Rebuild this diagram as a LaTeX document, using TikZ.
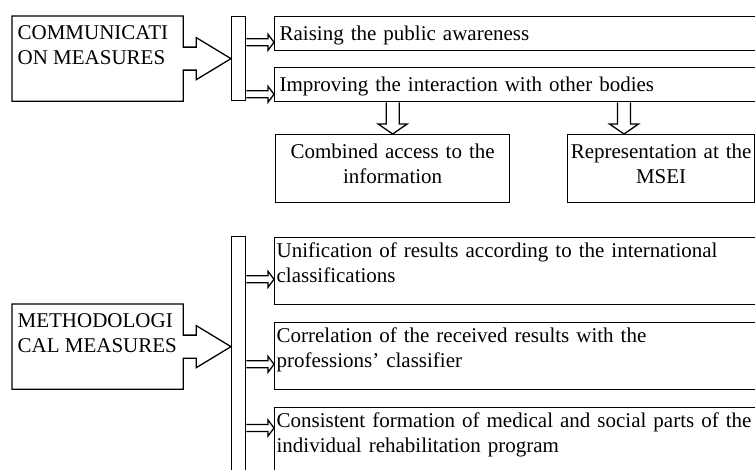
\documentclass[tikz,border=0pt]{standalone}
\usepackage{fontspec}
\setmainfont{Liberation Serif}
\usetikzlibrary{calc}

% hollow arrows between bars and boxes
\newcommand{\rightarr}[2]{%
  \draw ($(#1)+(0,-3.5)$) -- ($(#2)+(-6,-3.5)$) -- ($(#2)+(-6,-8)$) -- (#2)
    -- ($(#2)+(-6,8)$) -- ($(#2)+(-6,3.5)$) -- ($(#1)+(0,3.5)$);}
\newcommand{\downarr}[2]{%
  \draw ($(#1)+(-6.5,0)$) -- ($(#2)+(-6.5,-10)$) -- ($(#2)+(-14.5,-10)$) -- (#2)
    -- ($(#2)+(14.5,-10)$) -- ($(#2)+(6.5,-10)$) -- ($(#1)+(6.5,0)$);}
\newcommand{\bigarr}[2]{%
  \draw (#1.north east) -- ($(#1.east)+(0,-11.5)$) -- ++(13,0) -- ++(0,-9.5)
    -- (#2.west |- #1.east) -- ($(#1.east)+(13,21)$) -- ++(0,-9.5)
    -- ($(#1.east)+(0,11.5)$) -- (#1.south east) -- (#1.south west)
    -- (#1.north west) -- cycle;}

\begin{document}
\begin{tikzpicture}[x=1pt,y=-1pt,line width=1.3pt,
  every node/.style={font=\fontsize{21}{25}\selectfont},
  measure/.style={anchor=north west,inner xsep=5pt,inner ysep=0pt,text width=160pt,
    align=flush left,text height=23pt,text depth=61pt},
  bar/.style={draw,anchor=north west,inner sep=0pt,minimum width=14pt},
  itembox/.style={draw,anchor=north west,inner xsep=5pt,inner ysep=0pt,text width=480pt,
    align=left,text height=24pt,text depth=10pt},
  listbox/.style={draw,anchor=north west,inner xsep=2pt,inner ysep=0pt,text width=486pt,
    align=left,text height=20pt,text depth=47pt},
  resultbox/.style={draw,anchor=north west,inner xsep=3pt,inner ysep=0pt,
    align=center,text height=24pt,text depth=44pt}]

\useasboundingbox (0,0) rectangle (755,470);

% communication
\node[measure] (comm) at (12,16) {COMMUNICATI\\ON MEASURES};
\node[bar,minimum height=84pt] (bar1) at (231,16) {};
\bigarr{comm}{bar1}

\node[itembox] (raise)   at (274,16) {Raising the public awareness};
\node[itembox] (improve) at (274,67) {Improving the interaction with other bodies};

\node[resultbox,text width=228pt] (access) at (275,134) {Combined access to the\\information};
\node[resultbox,text width=181pt] (repr)   at (567,134) {Representation at the\\MSEI};

\coordinate (t1) at ($(raise.south west)+(0,-9)$);
\coordinate (t2) at ($(improve.south west)+(0,-8)$);
\coordinate (t3) at ($(repr.north west)+(57,0)$);
\rightarr{bar1.east |- t1}{t1}
\rightarr{bar1.east |- t2}{t2}
\downarr{improve.south -| access.north}{access.north}
\downarr{improve.south -| t3}{t3}

% methodological
\node[measure] (meth) at (12,304) {METHODOLOGI\\CAL MEASURES};
\node[bar,minimum height=250pt] (bar2) at (231,236) {};
\bigarr{meth}{bar2}

\node[listbox] (unif) at (274,237) {Unification of results according to the international\\classifications};
\node[listbox] (corr) at (274,322) {Correlation of the received results with the\\professions' classifier};
\node[listbox] (cons) at (274,407) {Consistent formation of medical and social parts of the\\individual rehabilitation program};

\coordinate (t4) at ($(unif.south west)+(0,-26)$);
\coordinate (t5) at ($(corr.south west)+(0,-26)$);
\coordinate (t6) at ($(cons.north west)+(0,21)$);
\rightarr{bar2.east |- t4}{t4}
\rightarr{bar2.east |- t5}{t5}
\rightarr{bar2.east |- t6}{t6}

\end{tikzpicture}
\end{document}
